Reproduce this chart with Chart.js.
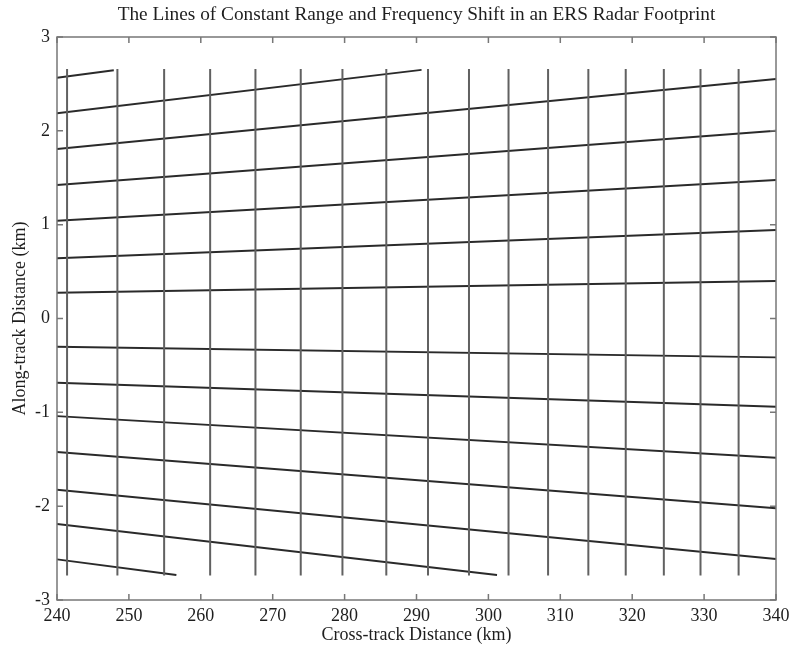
<!DOCTYPE html>
<html>
<head>
<meta charset="utf-8">
<title>ERS Radar Footprint</title>
<script src="https://cdn.jsdelivr.net/npm/chart.js@4/dist/chart.umd.min.js"></script>
<style>
  html, body { margin: 0; padding: 0; background: #fff; }
  canvas { display: block; }
</style>
</head>
<body>
<canvas id="chart" width="792" height="645"></canvas>
<script>
// Cross-track positions (km) of the lines of constant slant range
const rangeLineX = [241.4, 248.4, 254.9, 261.3, 267.6, 273.9, 279.7, 285.8, 291.6,
                    297.3, 302.8, 308.3, 313.9, 319.1, 324.4, 329.5, 334.8];
// Along-track extent (km) of the footprint covered by the range lines
const footprintY = [-2.74, 2.66];

// Lines of constant frequency shift: start at the near-range edge, end where they
// leave the footprint (top / bottom) or at the far-range edge
const dopplerStartX = [240, 240, 240, 240, 240, 240, 240, 240, 240, 240, 240, 240, 240, 240];
const dopplerStartY = [2.566, 2.187, 1.806, 1.423, 1.042, 0.642, 0.275,
                       -0.301, -0.684, -1.040, -1.423, -1.825, -2.190, -2.567];
const dopplerEndX   = [247.9, 290.7, 340, 340, 340, 340, 340,
                       340, 340, 340, 340, 340, 301.2, 256.6];
const dopplerEndY   = [2.645, 2.650, 2.552, 2.001, 1.476, 0.943, 0.400,
                       -0.414, -0.940, -1.484, -2.023, -2.563, -2.734, -2.734];

// Axis ranges and tick steps
const xLimits = [240, 340];
const yLimits = [-3, 3];
const xStep = 10;
const yStep = 1;

const TITLE = 'The Lines of Constant Range and Frequency Shift in an ERS Radar Footprint';
const FONT = 'Liberation Serif, "Times New Roman", serif';
const TEXT = '#1e1e1e';

const datasets = [];
rangeLineX.forEach(x => {
  datasets.push({
    data: [{ x: x, y: footprintY[0] }, { x: x, y: footprintY[1] }],
    borderColor: '#616161',
    borderWidth: 2,
    showLine: true,
    pointRadius: 0
  });
});
dopplerStartY.forEach((y0, i) => {
  datasets.push({
    data: [{ x: dopplerStartX[i], y: y0 }, { x: dopplerEndX[i], y: dopplerEndY[i] }],
    borderColor: '#2a2a2a',
    borderWidth: 1.9,
    showLine: true,
    pointRadius: 0
  });
});

// Axes box with inward tick marks on all four sides, plus the title centred over the plot
const framePlugin = {
  id: 'frame',
  afterDatasetsDraw(chart) {
    const { ctx, chartArea: a, scales } = chart;
    ctx.save();
    ctx.strokeStyle = '#777';
    ctx.lineWidth = 1.5;
    ctx.strokeRect(a.left, a.top, a.right - a.left, a.bottom - a.top);
    const len = 6;
    ctx.beginPath();
    scales.x.ticks.forEach(t => {
      const px = scales.x.getPixelForValue(t.value);
      ctx.moveTo(px, a.bottom); ctx.lineTo(px, a.bottom - len);
      ctx.moveTo(px, a.top); ctx.lineTo(px, a.top + len);
    });
    scales.y.ticks.forEach(t => {
      const py = scales.y.getPixelForValue(t.value);
      ctx.moveTo(a.left, py); ctx.lineTo(a.left + len, py);
      ctx.moveTo(a.right, py); ctx.lineTo(a.right - len, py);
    });
    ctx.stroke();

    ctx.fillStyle = TEXT;
    ctx.font = '19.3px ' + FONT;
    ctx.textAlign = 'center';
    ctx.textBaseline = 'middle';
    ctx.fillText(TITLE, (a.left + a.right) / 2, 15);
    ctx.restore();
  }
};

new Chart(document.getElementById('chart'), {
  type: 'scatter',
  data: { datasets },
  plugins: [framePlugin],
  options: {
    responsive: false,
    animation: false,
    layout: { padding: { left: 0, right: 16, top: 37, bottom: 0 } },
    plugins: {
      legend: { display: false },
      tooltip: { enabled: false },
      title: { display: false }
    },
    scales: {
      x: {
        type: 'linear',
        position: 'bottom',
        min: xLimits[0],
        max: xLimits[1],
        grid: { display: false, drawTicks: false },
        border: { display: false },
        ticks: { stepSize: xStep, padding: 5.5, color: TEXT, font: { family: FONT, size: 18 } },
        title: {
          display: true,
          text: 'Cross-track Distance (km)',
          color: TEXT,
          font: { family: FONT, size: 18 },
          padding: { top: 0, bottom: -1.5 }
        },
        afterFit(scale) {
          scale.height = 45;
          scale.paddingLeft = 0;
          scale.paddingRight = 0;
        }
      },
      y: {
        type: 'linear',
        position: 'left',
        min: yLimits[0],
        max: yLimits[1],
        grid: { display: false, drawTicks: false },
        border: { display: false },
        ticks: { stepSize: yStep, padding: 7, color: TEXT, font: { family: FONT, size: 18 } },
        title: {
          display: true,
          text: 'Along-track Distance (km)',
          color: TEXT,
          font: { family: FONT, size: 18 },
          padding: { top: 9, bottom: 0 }
        },
        afterFit(scale) {
          scale.width = 57;
          scale.paddingTop = 0;
          scale.paddingBottom = 0;
        }
      }
    }
  }
});
</script>
</body>
</html>
